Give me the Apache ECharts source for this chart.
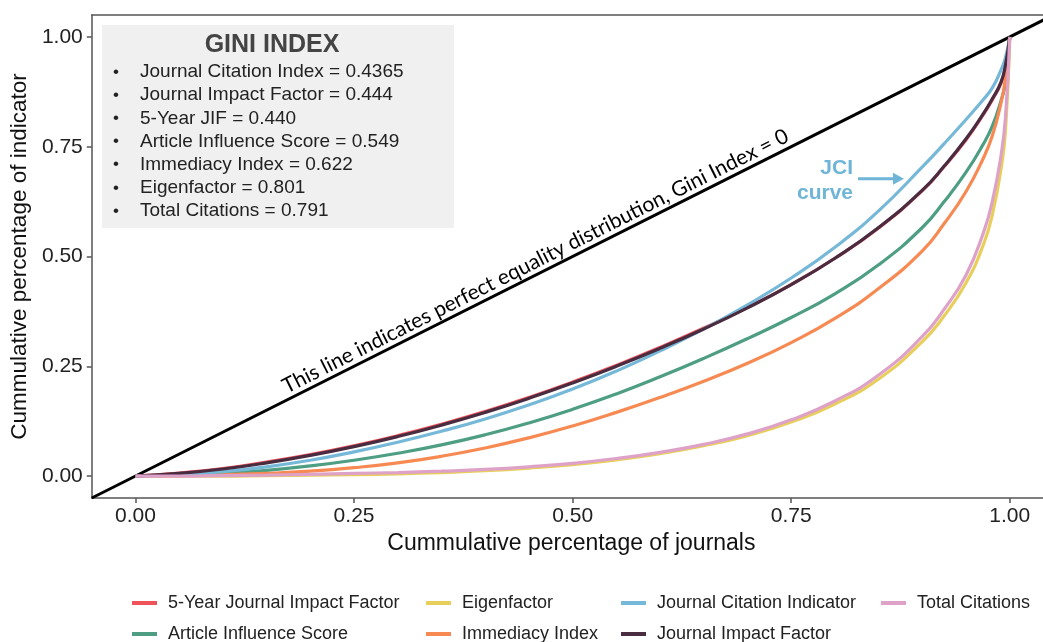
<!DOCTYPE html>
<html>
<head>
<meta charset="utf-8">
<script src="https://cdn.jsdelivr.net/npm/echarts@6/dist/echarts.min.js"></script>
<style>
  html, body { margin: 0; padding: 0; background: #ffffff; }
  #chart { width: 1043px; height: 642px; }
</style>
</head>
<body>
<div id="chart"></div>
<script>
// Cumulative share of journals (x) at which each Lorenz curve is sampled
const shareOfJournals = [0, 0.05, 0.1, 0.15, 0.2, 0.25, 0.3, 0.35, 0.4, 0.45, 0.5, 0.55, 0.6,
  0.65, 0.7, 0.75, 0.8, 0.85, 0.9, 0.925, 0.95, 0.97, 0.98, 0.99, 0.995, 1];

// Cumulative share of each indicator (y)
const fiveYearJIF = [0, 0.007, 0.017, 0.032, 0.049, 0.069, 0.092, 0.118, 0.147, 0.179, 0.214, 0.252, 0.293,
  0.337, 0.384, 0.436, 0.496, 0.565, 0.650, 0.705, 0.766, 0.824, 0.857, 0.895, 0.933, 1];
const articleInfluence = [0, 0.002, 0.006, 0.013, 0.023, 0.036, 0.052, 0.071, 0.094, 0.121, 0.152, 0.187, 0.226,
  0.268, 0.313, 0.361, 0.415, 0.481, 0.566, 0.625, 0.692, 0.757, 0.797, 0.855, 0.895, 1];
const eigenfactor = [0, 0, 0, 0.001, 0.002, 0.003, 0.005, 0.008, 0.012, 0.018, 0.026, 0.037, 0.051,
  0.069, 0.092, 0.123, 0.164, 0.221, 0.306, 0.365, 0.440, 0.528, 0.595, 0.700, 0.785, 1];
const immediacyIndex = [0, 0.001, 0.003, 0.006, 0.011, 0.019, 0.030, 0.045, 0.064, 0.087, 0.114, 0.145, 0.179,
  0.216, 0.257, 0.304, 0.359, 0.427, 0.513, 0.575, 0.648, 0.725, 0.775, 0.850, 0.905, 1];
const journalCitationIndicator = [0, 0.003, 0.010, 0.021, 0.036, 0.055, 0.077, 0.102, 0.130, 0.162, 0.198, 0.239, 0.285,
  0.335, 0.390, 0.451, 0.521, 0.604, 0.704, 0.757, 0.812, 0.858, 0.884, 0.925, 0.952, 1];
const journalImpactFactor = [0, 0.006, 0.016, 0.030, 0.047, 0.067, 0.090, 0.116, 0.145, 0.177, 0.212, 0.250, 0.291,
  0.335, 0.383, 0.436, 0.496, 0.566, 0.651, 0.706, 0.768, 0.826, 0.859, 0.897, 0.935, 1];
const totalCitations = [0, 0, 0.001, 0.002, 0.004, 0.006, 0.008, 0.011, 0.015, 0.021, 0.029, 0.040, 0.054,
  0.072, 0.096, 0.128, 0.171, 0.230, 0.318, 0.380, 0.458, 0.555, 0.625, 0.730, 0.815, 1];

// Line of perfect equality
const equalityLine = [[-0.05, -0.05], [1.05, 1.05]];

// Axis ticks
const axisTicks = [0, 0.25, 0.5, 0.75, 1];

// Gini index summary
const giniNames = ['Journal Citation Index', 'Journal Impact Factor', '5-Year JIF', 'Article Influence Score',
  'Immediacy Index', 'Eigenfactor', 'Total Citations'];
const giniValues = ['0.4365', '0.444', '0.440', '0.549', '0.622', '0.801', '0.791'];

const SANS = '"Liberation Sans", Arial, sans-serif';

const curves = [
  { name: '5-Year Journal Impact Factor', values: fiveYearJIF, color: '#f0525a' },
  { name: 'Article Influence Score', values: articleInfluence, color: '#4e9e84' },
  { name: 'Eigenfactor', values: eigenfactor, color: '#e8cf5c' },
  { name: 'Immediacy Index', values: immediacyIndex, color: '#f68a52' },
  { name: 'Journal Citation Indicator', values: journalCitationIndicator, color: '#76b8d8' },
  { name: 'Journal Impact Factor', values: journalImpactFactor, color: '#4a2c40' },
  { name: 'Total Citations', values: totalCitations, color: '#dea2c8' }
];

// x range: panel runs from -0.05 and is cut by the right edge of the canvas
const X_MIN = -0.05, X_MAX = 1.038;

const chart = echarts.init(document.getElementById('chart'), null, { renderer: 'canvas' });

const series = [{
  name: 'equality',
  type: 'line',
  data: equalityLine,
  showSymbol: false,
  silent: true,
  lineStyle: { color: '#000', width: 3 },
  z: 1
}].concat(curves.map((c, i) => ({
  name: c.name,
  type: 'line',
  data: shareOfJournals.map((x, k) => [x, c.values[k]]),
  showSymbol: false,
  smooth: 0.5,
  color: c.color,
  lineStyle: { color: c.color, width: 3.2 },
  z: 2 + i
})));

function legendColumn(names, left) {
  return {
    data: names,
    orient: 'vertical',
    left: left,
    top: 588,
    height: 80,
    itemWidth: 25,
    itemHeight: 4,
    itemGap: 11,
    icon: 'rect',
    selectedMode: false,
    textStyle: { fontFamily: SANS, fontSize: 18, color: '#222', lineHeight: 20, padding: [0, 0, 0, 6] }
  };
}

const frameLine = { show: true, onZero: false, lineStyle: { color: '#555', width: 1.5 } };
const axisTick = { show: true, length: 5, lineStyle: { color: '#555', width: 1.5 }, customValues: axisTicks };

chart.setOption({
  animation: false,
  backgroundColor: '#ffffff',
  grid: { left: 90, top: 15, right: 0, height: 483 },
  xAxis: [{
    type: 'value', min: X_MIN, max: X_MAX,
    axisLine: frameLine, axisTick: axisTick,
    splitLine: { show: false },
    axisLabel: {
      customValues: axisTicks, margin: 8,
      formatter: v => v.toFixed(2),
      fontFamily: SANS, fontSize: 21, color: '#222'
    },
    name: 'Cummulative percentage of journals',
    nameLocation: 'middle', nameGap: 33,
    nameTextStyle: { fontFamily: SANS, fontSize: 23, color: '#111', padding: [0, 0, 0, 8] }
  }, {
    // top edge of the panel frame
    type: 'value', position: 'top', min: X_MIN, max: X_MAX,
    axisLine: frameLine, axisTick: { show: false }, axisLabel: { show: false },
    splitLine: { show: false }
  }],
  yAxis: {
    type: 'value', min: -0.05, max: 1.05,
    axisLine: frameLine, axisTick: axisTick,
    splitLine: { show: false },
    axisLabel: {
      customValues: axisTicks, margin: 9,
      formatter: v => v.toFixed(2),
      fontFamily: SANS, fontSize: 21, color: '#222'
    },
    name: 'Cummulative percentage of indicator',
    nameLocation: 'middle', nameGap: 57, nameRotate: 90,
    nameTextStyle: { fontFamily: SANS, fontSize: 22.5, color: '#111' }
  },
  legend: [
    legendColumn(['5-Year Journal Impact Factor', 'Article Influence Score'], 127),
    legendColumn(['Eigenfactor', 'Immediacy Index'], 421),
    legendColumn(['Journal Citation Indicator', 'Journal Impact Factor'], 616),
    legendColumn(['Total Citations'], 876)
  ],
  series: series
});

// Annotations: Gini summary box, label along the equality line, JCI pointer
const p0 = chart.convertToPixel({ gridIndex: 0 }, [0, 0]);
const p1 = chart.convertToPixel({ gridIndex: 0 }, [1, 1]);
const theta = Math.atan2(p0[1] - p1[1], p1[0] - p0[0]);
const labelAnchor = chart.convertToPixel({ gridIndex: 0 }, [0.176, 0.176]);
const lift = 2;
const arrowTip = chart.convertToPixel({ gridIndex: 0 }, [0.879, 0.677]);

const giniBox = [
  { type: 'rect', shape: { x: 102, y: 25, width: 352, height: 203 }, style: { fill: '#f0f0f0' }, z: 10 },
  { type: 'text', z: 11, style: { text: 'GINI INDEX', x: 272, y: 45, align: 'center', verticalAlign: 'middle',
      fontFamily: SANS, fontWeight: 'bold', fontSize: 25, fill: '#444' } }
];
giniNames.forEach((n, i) => {
  const y = 72 + i * 23.2;
  giniBox.push({ type: 'text', z: 11, style: { text: '\u2022', x: 113, y: y, align: 'left', verticalAlign: 'middle',
    fontFamily: SANS, fontSize: 17, fill: '#222' } });
  giniBox.push({ type: 'text', z: 11, style: { text: n + ' = ' + giniValues[i], x: 140, y: y, align: 'left',
    verticalAlign: 'middle', fontFamily: SANS, fontSize: 19, fill: '#222' } });
});

chart.setOption({
  graphic: giniBox.concat([
    {
      type: 'text', z: 12,
      x: labelAnchor[0] - lift * Math.sin(theta),
      y: labelAnchor[1] - lift * Math.cos(theta),
      rotation: theta,
      style: { text: 'This line indicates perfect equality distribution, Gini Index = 0',
        x: 0, y: 0, align: 'left', verticalAlign: 'bottom',
        fontFamily: 'Lato, "Open Sans", sans-serif', fontSize: 21, fill: '#000' }
    },
    { type: 'text', z: 12, style: { text: 'JCI', x: arrowTip[0] - 51, y: arrowTip[1] - 11, align: 'right',
        verticalAlign: 'middle', fontFamily: SANS, fontWeight: 'bold', fontSize: 21, fill: '#6fb5d7' } },
    { type: 'text', z: 12, style: { text: 'curve', x: arrowTip[0] - 51, y: arrowTip[1] + 14, align: 'right',
        verticalAlign: 'middle', fontFamily: SANS, fontWeight: 'bold', fontSize: 21, fill: '#6fb5d7' } },
    { type: 'line', z: 12, shape: { x1: arrowTip[0] - 46, y1: arrowTip[1], x2: arrowTip[0] - 9, y2: arrowTip[1] },
      style: { stroke: '#6fb5d7', lineWidth: 3 } },
    { type: 'polygon', z: 12, shape: { points: [[arrowTip[0], arrowTip[1]], [arrowTip[0] - 11, arrowTip[1] - 6],
        [arrowTip[0] - 11, arrowTip[1] + 6]] }, style: { fill: '#6fb5d7' } }
  ])
});
</script>
</body>
</html>
